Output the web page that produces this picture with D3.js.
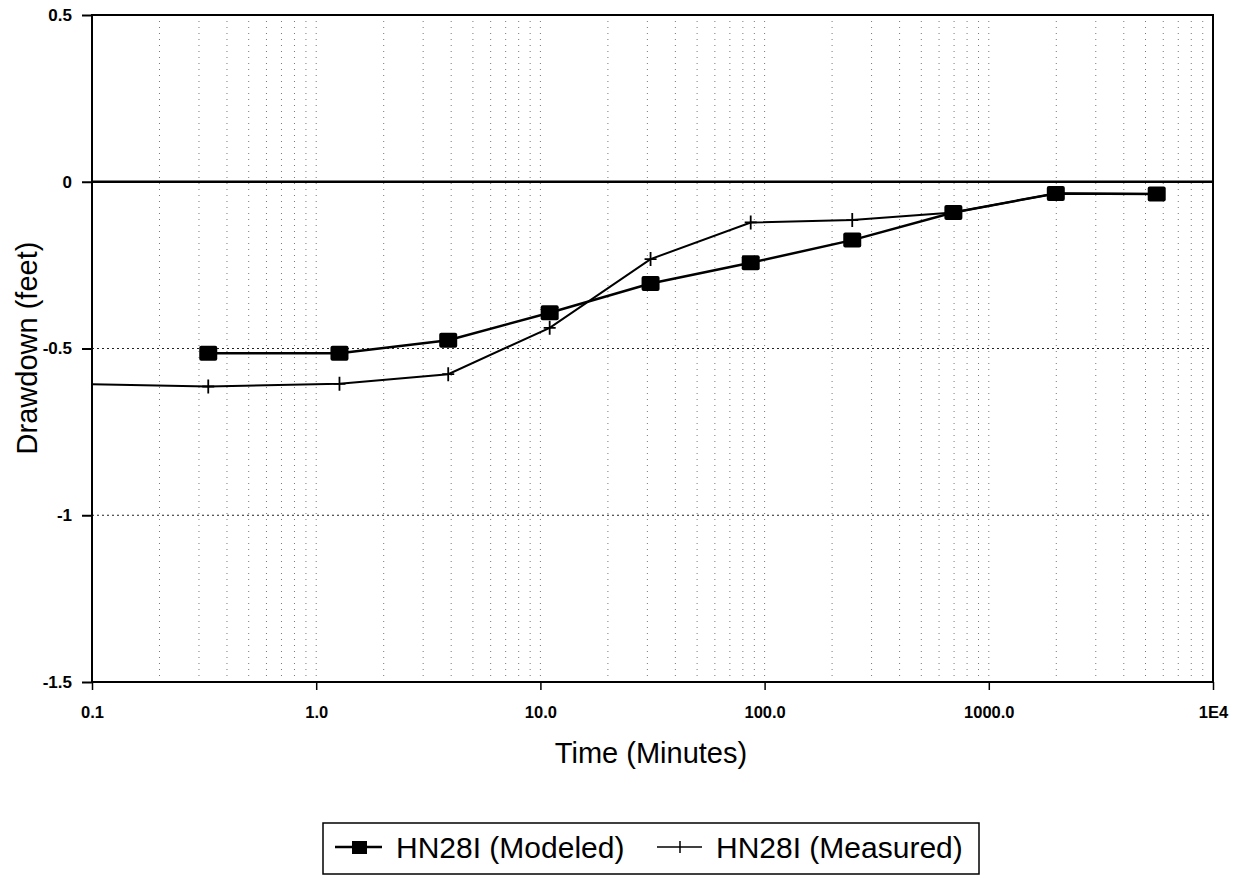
<!DOCTYPE html>
<html>
<head>
<meta charset="utf-8">
<script src="https://cdn.jsdelivr.net/npm/d3@7"></script>
<style>
  html, body { margin: 0; padding: 0; background: #fff; }
  svg { display: block; font-family: "Liberation Sans", Arial, sans-serif; }
</style>
</head>
<body>
<div id="chart"></div>
<script>
//Series data (time in minutes, drawdown in feet)
const timeModeled = [0.33, 1.27, 3.88, 11.0, 31.0, 86.7, 246, 695, 1990, 5610];
const drawModeled = [-0.514, -0.514, -0.475, -0.393, -0.305, -0.243, -0.175, -0.092, -0.035, -0.037];
const timeMeasured = [0.1, 0.33, 1.27, 3.88, 11.0, 31.0, 86.7, 246, 695, 1990, 5610];
const drawMeasured = [-0.607, -0.614, -0.606, -0.577, -0.438, -0.232, -0.122, -0.115, -0.092, -0.035, -0.037];

//Axis ticks
const xTicks = [0.1, 1, 10, 100, 1000, 10000];
const xTickLabels = ["0.1", "1.0", "10.0", "100.0", "1000.0", "1E4"];
const yTicks = [0.5, 0, -0.5, -1, -1.5];
const yTickLabels = ["0.5", "0", "-0.5", "-1", "-1.5"];

const seriesNames = ["HN28I (Modeled)", "HN28I (Measured)"];

//////////////////////////////////////////////////

const W = 1238, H = 877;
const plotL = 92, plotR = 1213, plotT = 15, plotB = 682;

const svg = d3.select("#chart").append("svg")
  .attr("width", W).attr("height", H);

const x = d3.scaleLog().domain([0.1, 10000]).range([plotL, plotR]);
const y = d3.scaleLinear().domain([-1.5, 0.5]).range([plotB, plotT]);

//Vertical gridlines (1..9 within every decade)
const minor = [];
for (let d = -1; d < 4; d++) {
  for (let k = 1; k < 10; k++) {
    const v = k * Math.pow(10, d);
    if (v > 0.1) minor.push(v);
  }
}
svg.append("g").selectAll("line").data(minor).join("line")
  .attr("x1", d => x(d)).attr("x2", d => x(d))
  .attr("y1", plotT).attr("y2", plotB)
  .attr("stroke", "#777").attr("stroke-width", 1)
  .attr("stroke-dasharray", "1,5");

//Horizontal gridlines
svg.append("g").selectAll("line").data([-0.5, -1]).join("line")
  .attr("x1", plotL).attr("x2", plotR)
  .attr("y1", d => y(d)).attr("y2", d => y(d))
  .attr("stroke", "#222").attr("stroke-width", 1.2)
  .attr("stroke-dasharray", "2,3");

//Zero line
svg.append("line")
  .attr("x1", plotL).attr("x2", plotR)
  .attr("y1", y(0)).attr("y2", y(0))
  .attr("stroke", "#000").attr("stroke-width", 2.5);

//Frame
svg.append("rect")
  .attr("x", plotL).attr("y", plotT)
  .attr("width", plotR - plotL).attr("height", plotB - plotT)
  .attr("fill", "none").attr("stroke", "#000").attr("stroke-width", 2);

//Axes
const xAxis = d3.axisBottom(x).tickValues(xTicks)
  .tickFormat((d, i) => xTickLabels[i]).tickSize(8).tickPadding(16);
const gx = svg.append("g").attr("transform", `translate(0,${plotB})`).call(xAxis);
gx.select(".domain").remove();
gx.selectAll("line").attr("stroke", "#000").attr("stroke-width", 1.5);
gx.selectAll("text").attr("font-size", 16.5).attr("font-weight", "bold")
  .attr("fill", "#000").attr("font-family", "Liberation Sans, Arial, sans-serif");

const yAxis = d3.axisLeft(y).tickValues(yTicks)
  .tickFormat((d, i) => yTickLabels[i]).tickSize(10).tickPadding(10);
const gy = svg.append("g").attr("transform", `translate(${plotL},0)`).call(yAxis);
gy.select(".domain").remove();
gy.selectAll("line").attr("stroke", "#000").attr("stroke-width", 2);
gy.selectAll("text").attr("font-size", 17).attr("font-weight", "bold")
  .attr("fill", "#000").attr("font-family", "Liberation Sans, Arial, sans-serif");

//Axis titles
svg.append("text")
  .attr("x", 651).attr("y", 763)
  .attr("text-anchor", "middle").attr("font-size", 29)
  .text("Time (Minutes)");

svg.append("text")
  .attr("transform", "translate(37,348) rotate(-90)")
  .attr("text-anchor", "middle").attr("font-size", 29)
  .text("Drawdown (feet)");

//Series lines
const line = d3.line().x(d => x(d[0])).y(d => y(d[1]));
const measured = timeMeasured.map((t, i) => [t, drawMeasured[i]]);
const modeled = timeModeled.map((t, i) => [t, drawModeled[i]]);

svg.append("path").datum(measured)
  .attr("d", line).attr("fill", "none")
  .attr("stroke", "#000").attr("stroke-width", 2);

svg.append("path").datum(modeled)
  .attr("d", line).attr("fill", "none")
  .attr("stroke", "#000").attr("stroke-width", 2.5);

//Plus markers for measured values (inside the plot only)
const plus = "M-6,0H6M0,-7V7";
svg.append("g").selectAll("path")
  .data(measured.filter(d => d[0] > 0.1)).join("path")
  .attr("transform", d => `translate(${x(d[0])},${y(d[1])})`)
  .attr("d", plus).attr("stroke", "#000").attr("stroke-width", 1.8);

//Square markers for modeled values
svg.append("g").selectAll("rect").data(modeled).join("rect")
  .attr("x", d => x(d[0]) - 9).attr("y", d => y(d[1]) - 7.5)
  .attr("width", 18).attr("height", 15).attr("rx", 2)
  .attr("fill", "#000");

//Legend
const lg = svg.append("g");
lg.append("rect")
  .attr("x", 323).attr("y", 823).attr("width", 656).attr("height", 51)
  .attr("fill", "#fff").attr("stroke", "#000").attr("stroke-width", 1.5);

lg.append("line").attr("x1", 335).attr("x2", 382).attr("y1", 847).attr("y2", 847)
  .attr("stroke", "#000").attr("stroke-width", 2.5);
lg.append("rect").attr("x", 352).attr("y", 841).attr("width", 15).attr("height", 13)
  .attr("fill", "#000");
lg.append("text").attr("x", 396).attr("y", 858).attr("font-size", 30)
  .text(seriesNames[0]);

lg.append("line").attr("x1", 657).attr("x2", 702).attr("y1", 847).attr("y2", 847)
  .attr("stroke", "#000").attr("stroke-width", 1.5);
lg.append("path").attr("transform", "translate(680,847)")
  .attr("d", "M0,-6V6").attr("stroke", "#000").attr("stroke-width", 1.5);
lg.append("text").attr("x", 716).attr("y", 858).attr("font-size", 30)
  .text(seriesNames[1]);
</script>
</body>
</html>
